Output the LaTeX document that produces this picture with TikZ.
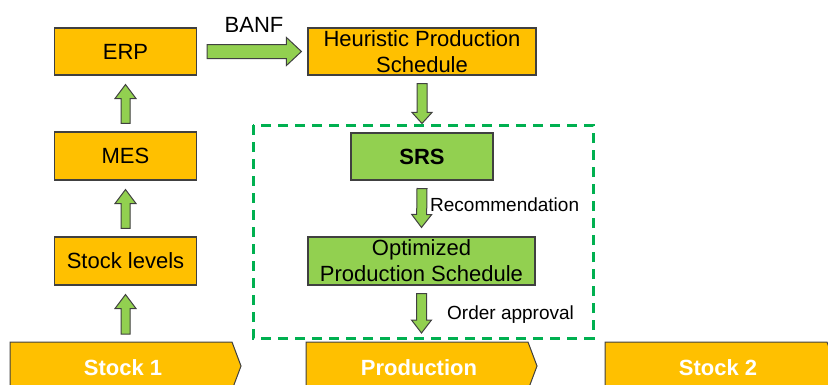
\documentclass[tikz,border=0pt]{standalone}
\usepackage{fontspec}
\setmainfont{Liberation Sans}
\usetikzlibrary{calc}
\definecolor{boxorange}{HTML}{FFC000}
\definecolor{boxgreen}{HTML}{92D050}
\definecolor{framegreen}{HTML}{00B050}
\definecolor{edgegray}{HTML}{404040}

% block-arrow geometry: shaft half width, wing half width, head length
\tikzset{
  ba shaft/.store in=\bashaft, ba wing/.store in=\bawing, ba head/.store in=\bahead,
  ba shaft=4.5pt, ba wing=10.5pt, ba head=14pt
}

\begin{document}
\begin{tikzpicture}[x=1pt,y=1pt,
  box/.style={draw=edgegray, line width=1.1pt, fill=boxorange, inner sep=0pt,
    minimum height=47pt, align=center, font=\fontsize{22}{26}\selectfont},
  greenbox/.style={box, fill=boxgreen},
  blockarrow/.style={draw=edgegray, line width=1pt, fill=boxgreen, line join=miter,
    to path={let \p1=(\tikztostart), \p2=(\tikztotarget), \p3=($(\p2)!\bahead!(\p1)$) in
      ($(\p1)!\bashaft!90:(\p2)$) -- ($(\p3)!\bashaft!90:(\p2)$) -- ($(\p3)!\bawing!90:(\p2)$)
      -- (\p2) -- ($(\p3)!\bawing!-90:(\p2)$) -- ($(\p3)!\bashaft!-90:(\p2)$)
      -- ($(\p1)!\bashaft!-90:(\p2)$) -- cycle}},
  chev/.style={draw=edgegray, line width=1pt, fill=boxorange},
  chevlabel/.style={anchor=base, text=white, font=\fontsize{22}{26}\selectfont\bfseries},
  note/.style={anchor=base west, inner sep=0pt, font=\fontsize{19}{22}\selectfont},
  dashframe/.style={draw=framegreen, line width=3pt, dash pattern=on 10pt off 7pt}
]
\useasboundingbox (0,0) rectangle (828,-384);
\clip (0,0) rectangle (828,-384);

% left column
\node[box, minimum width=142pt] (erp) at (125.5,-51.5) {ERP};
\node[box, minimum width=142pt, minimum height=48pt] (mes) at (125.5,-156) {MES};
\node[box, minimum width=142pt, minimum height=48pt] (stocklv) at (125.5,-261) {Stock levels};

% right column
\node[box, minimum width=228pt] (heur) at (422,-51.5) {Heuristic Production\\Schedule};
\node[greenbox, minimum width=142pt] (srs) at (422,-156.5) {\bfseries SRS};
\node[greenbox, minimum width=227pt, minimum height=48pt] (opt) at (421.5,-261) {Optimized\\Production Schedule};

% dashed frame round the recommendation system
\draw[dashframe] (253,-125) rectangle (593,-338);

% process chevrons along the bottom
\foreach \xl/\nm/\txt in {10/stockone/Stock 1, 306/production/Production, 605/stocktwo/Stock 2}{
  \draw[chev] (\xl,-342) -- (\xl+222,-342) -- (\xl+231,-366) -- (\xl+222,-390) -- (\xl,-390) -- cycle;
  \node[chevlabel] (\nm) at (\xl+113,-375) {\txt};
}
\coordinate (s1top) at (stocklv.south |- 0,-342);
\coordinate (prodtop) at (opt.south |- 0,-342);

% upward information flow
\draw[blockarrow] ([yshift=8pt]s1top) to ([yshift=-9pt]stocklv.south);
\draw[blockarrow] ([yshift=8pt]stocklv.north) to ([yshift=-9pt]mes.south);
\draw[blockarrow] ([yshift=8pt]mes.north) to ([yshift=-9pt]erp.south);

% BANF request
\draw[blockarrow, ba shaft=7pt, ba wing=14pt, ba head=15pt]
  ([xshift=10pt]erp.east) to ([xshift=-6pt]heur.west);
\node[anchor=base, inner sep=0pt, font=\fontsize{22}{26}\selectfont] (banf) at (254,-32) {BANF};

% downward flow through the recommendation system
\draw[blockarrow, ba shaft=5pt, ba wing=10pt, ba head=11pt]
  ([yshift=-8pt]heur.south) to ([yshift=9pt]srs.north);
\draw[blockarrow, ba shaft=5pt, ba wing=10pt, ba head=13pt]
  ([yshift=-8pt]srs.south) to ([yshift=9pt]opt.north);
\draw[blockarrow, ba shaft=5pt, ba wing=10pt, ba head=13pt]
  ([yshift=-8pt]opt.south) to ([yshift=9pt]prodtop);

\node[note] (rec) at (430,-211) {Recommendation};
\node[note] (ordap) at (447,-319) {Order approval};
\end{tikzpicture}
\end{document}
